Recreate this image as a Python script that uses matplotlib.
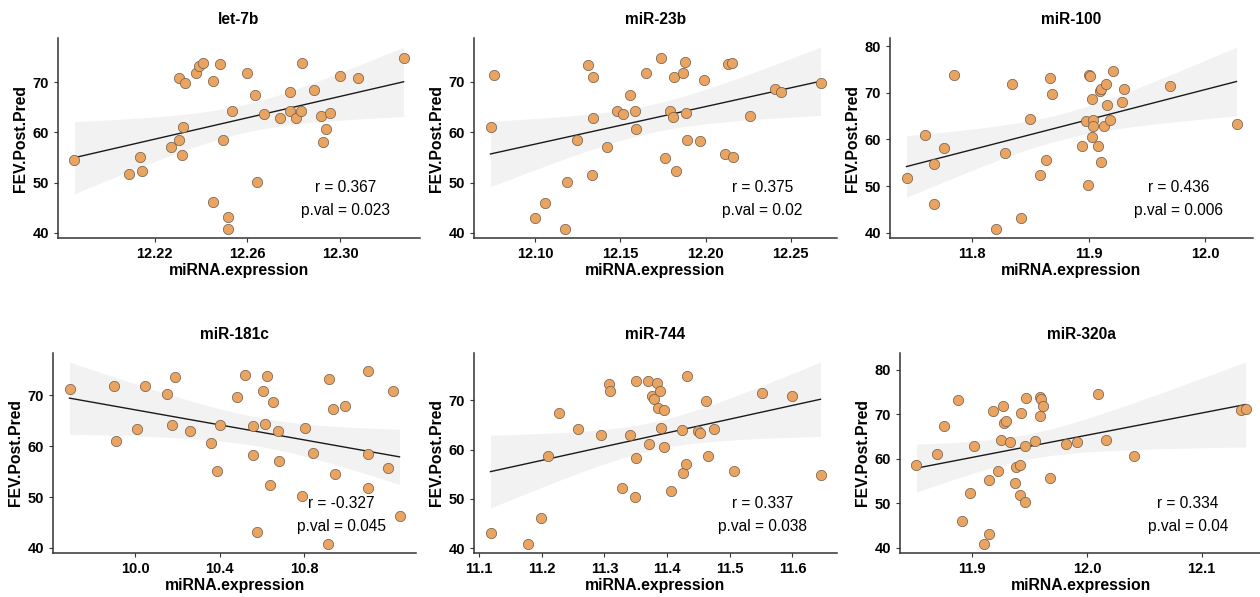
import numpy as np
import matplotlib.pyplot as plt

plt.rcParams['font.family'] = ['Liberation Sans', 'DejaVu Sans']

titles = ['let-7b', 'miR-23b', 'miR-100', 'miR-181c', 'miR-744', 'miR-320a']
r_text = ['r = 0.367', 'r = 0.375', 'r = 0.436', 'r = -0.327', 'r = 0.337', 'r = 0.334']
p_text = ['p.val = 0.023', 'p.val = 0.02', 'p.val = 0.006', 'p.val = 0.045', 'p.val = 0.038', 'p.val = 0.04']

let7b_x = [12.1854, 12.2088, 12.2137, 12.2145, 12.2272, 12.2303, 12.2318, 12.2322, 12.2329,
           12.2305, 12.2380, 12.2391, 12.2408, 12.2450, 12.2453, 12.2480, 12.2497, 12.2516,
           12.2517, 12.2533, 12.2599, 12.2631, 12.2640, 12.2674, 12.2739, 12.2785, 12.2785,
           12.2810, 12.2832, 12.2836, 12.2887, 12.2919, 12.2925, 12.2941, 12.2957, 12.3000,
           12.3076, 12.3274]
let7b_y = [54.6, 51.7, 55.2, 52.3, 57.1, 70.85, 55.6, 61.0, 69.8,
           58.5, 71.8, 73.2, 73.9, 70.3, 46.1, 73.6, 58.6, 43.1,
           40.8, 64.3, 71.8, 67.4, 50.2, 63.6, 62.9, 68.0, 64.2,
           62.9, 64.2, 73.8, 68.5, 63.2, 58.1, 60.6, 63.9, 71.3,
           70.9, 74.8]

mir23b_x = [12.0736, 12.0759, 12.1000, 12.1059, 12.1176, 12.1184, 12.1245, 12.1309, 12.1333,
            12.1337, 12.1337, 12.1423, 12.1482, 12.1513, 12.1558, 12.1587, 12.1593, 12.1648,
            12.1738, 12.1762, 12.1793, 12.1809, 12.1813, 12.1824, 12.1865, 12.1881, 12.1887,
            12.1891, 12.1969, 12.1991, 12.2116, 12.2131, 12.2155, 12.2162, 12.2263, 12.2410,
            12.2441, 12.2676]
mir23b_y = [61.0, 71.4, 43.0, 46.0, 40.8, 50.2, 58.5, 73.3, 51.6,
            71.0, 62.9, 57.1, 64.2, 63.6, 67.4, 64.2, 60.6, 71.8,
            74.8, 54.8, 64.2, 63.0, 70.9, 52.3, 71.8, 74.0, 63.9,
            58.5, 58.2, 70.3, 55.6, 73.5, 73.8, 55.1, 63.2, 68.6,
            68.0, 69.8]

mir100_x = [11.7435, 11.7590, 11.7667, 11.7670, 11.7753, 11.7842, 11.8207, 11.8278, 11.8344,
            11.8422, 11.8500, 11.8580, 11.8634, 11.8666, 11.8689, 11.8944, 11.8976, 11.8990,
            11.8999, 11.9010, 11.9027, 11.9030, 11.9033, 11.9036, 11.9079, 11.9099, 11.9110,
            11.9108, 11.9128, 11.9151, 11.9154, 11.9179, 11.9208, 11.9286, 11.9306, 11.9702,
            12.0270]
mir100_y = [51.7, 61.0, 46.1, 54.7, 58.2, 73.9, 40.8, 57.1, 71.9,
            43.1, 64.3, 52.3, 55.6, 73.2, 69.8, 58.6, 64.0, 50.2,
            73.9, 73.6, 60.6, 68.6, 64.2, 63.0, 58.6, 70.5, 70.9,
            55.2, 63.0, 71.9, 67.4, 64.2, 74.8, 68.1, 70.9, 71.4,
            63.4]

mir181c_x = [9.687, 9.8957, 9.9099, 10.0063, 10.0443, 10.1518, 10.1739, 10.1881, 10.2577,
             10.3589, 10.3858, 10.4016, 10.4838, 10.5186, 10.5581, 10.5565, 10.5771, 10.6071,
             10.6166, 10.6261, 10.6403, 10.6514, 10.6751, 10.6814, 10.7905, 10.8063, 10.8427,
             10.9154, 10.917, 10.9391, 10.9486, 10.9937, 11.1051, 11.1036, 11.1051, 11.2,
             11.2221, 11.2522]
mir181c_y = [71.3, 71.8, 61.1, 63.3, 71.8, 70.3, 64.2, 73.6, 63.0,
             60.6, 55.2, 64.1, 69.7, 73.9, 63.9, 58.2, 43.2, 70.9,
             64.3, 73.8, 52.4, 68.6, 63.0, 57.1, 50.2, 63.6, 58.6,
             40.8, 73.2, 67.4, 54.6, 68.0, 51.7, 74.7, 58.5, 55.7,
             70.8, 46.2]

mir744_x = [11.1181, 11.1777, 11.1979, 11.2101, 11.2282, 11.2574, 11.2941, 11.3074, 11.3090,
            11.3277, 11.3404, 11.3479, 11.3495, 11.3500, 11.3697, 11.3707, 11.3760, 11.3793,
            11.3830, 11.3851, 11.3888, 11.3894, 11.3947, 11.3947, 11.4059, 11.4229, 11.4245,
            11.4303, 11.4319, 11.4489, 11.4527, 11.4612, 11.4644, 11.4745, 11.5069, 11.5511,
            11.6000, 11.6447]
mir744_y = [43.2, 40.9, 46.2, 58.7, 67.4, 64.2, 63.0, 73.2, 71.9,
            52.3, 63.0, 50.3, 58.3, 73.9, 73.9, 61.1, 70.9, 70.3,
            73.5, 68.5, 71.9, 64.3, 68.0, 60.6, 51.7, 64.0, 55.2,
            57.1, 74.8, 63.8, 63.3, 69.9, 58.6, 64.2, 55.7, 71.5,
            70.9, 54.8]

mir320a_x = [11.8513, 11.8690, 11.8757, 11.8878, 11.8910, 11.8980, 11.9012, 11.9099, 11.9142,
             11.9148, 11.9177, 11.9223, 11.9252, 11.9264, 11.9278, 11.9296, 11.9328, 11.9374,
             11.9380, 11.9414, 11.9420, 11.9426, 11.9458, 11.9458, 11.9464, 11.9548, 11.9588,
             11.9594, 11.9603, 11.9617, 11.9675, 11.9820, 11.9916, 12.0093, 12.0168, 12.0409,
             12.1345, 12.1383]
mir320a_y = [58.6, 61.0, 67.5, 73.2, 46.1, 52.4, 62.9, 40.9, 43.1,
             55.2, 70.8, 57.2, 64.3, 71.8, 68.0, 68.6, 63.7, 54.7,
             58.2, 58.6, 51.8, 70.3, 50.4, 62.9, 73.8, 64.1, 69.7,
             73.9, 73.4, 71.8, 55.7, 63.3, 63.8, 74.7, 64.3, 60.6,
             70.9, 71.3]

xs = [let7b_x, mir23b_x, mir100_x, mir181c_x, mir744_x, mir320a_x]
ys = [let7b_y, mir23b_y, mir100_y, mir181c_y, mir744_y, mir320a_y]
xticks = [[12.22, 12.26, 12.30], [12.10, 12.15, 12.20, 12.25], [11.8, 11.9, 12.0],
          [10.0, 10.4, 10.8], [11.1, 11.2, 11.3, 11.4, 11.5, 11.6], [11.9, 12.0, 12.1]]
xfmt = ['%.2f', '%.2f', '%.1f', '%.1f', '%.1f', '%.1f']
yticks = [[40, 50, 60, 70], [40, 50, 60, 70], [40, 50, 60, 70, 80],
          [40, 50, 60, 70], [40, 50, 60, 70], [40, 50, 60, 70, 80]]

# axes boxes in pixels: left, right, top, bottom
boxes = [(58, 420, 38, 238), (474, 837, 38, 238), (890, 1253, 38, 238),
         (53, 416, 353, 553), (474, 837, 353, 553), (900, 1262, 353, 553)]

W, H = 1260, 597
fig = plt.figure(figsize=(12.6, 5.97), dpi=100)
tcrit = 2.03

for i in range(6):
    l, r, t, b = boxes[i]
    ax = fig.add_axes([l / W, 1 - b / H, (r - l) / W, (b - t) / H])
    x = np.array(xs[i])
    y = np.array(ys[i])
    n = len(x)
    slope, icpt = np.polyfit(x, y, 1)
    grid = np.linspace(x.min(), x.max(), 100)
    fit = slope * grid + icpt
    resid = y - (slope * x + icpt)
    s = np.sqrt(np.sum(resid ** 2) / (n - 2))
    se = s * np.sqrt(1 / n + (grid - x.mean()) ** 2 / np.sum((x - x.mean()) ** 2))
    lo, hi = fit - tcrit * se, fit + tcrit * se
    ax.fill_between(grid, lo, hi, color='#f2f2f2', lw=0, zorder=1)
    ax.plot(grid, fit, color='#1a1a1a', lw=1.0, zorder=2)
    ax.scatter(x, y, s=55, c='#e9a462', edgecolors='#6e5a48', linewidths=0.5, zorder=3)

    xr = x.max() - x.min()
    ax.set_xlim(x.min() - 0.05 * xr, x.max() + 0.05 * xr)
    ymin = min(y.min(), lo.min())
    ymax = max(y.max(), hi.max())
    yr = ymax - ymin
    ax.set_ylim(ymin - 0.05 * yr, ymax + 0.05 * yr)

    ax.set_xticks(xticks[i])
    ax.set_xticklabels([xfmt[i] % v for v in xticks[i]])
    ax.set_yticks(yticks[i])
    for sp in ['top', 'right']:
        ax.spines[sp].set_visible(False)
    for sp in ['left', 'bottom']:
        ax.spines[sp].set_color('#333333')
        ax.spines[sp].set_linewidth(1.1)
    ax.tick_params(length=3, width=0.8, color='#333333', labelsize=10.5, pad=3.5)
    for lab in ax.get_xticklabels() + ax.get_yticklabels():
        lab.set_fontweight('bold')
        lab.set_color('black')

    ax.set_title(titles[i], fontsize=11.2, fontweight='bold', pad=10)
    ax.set_xlabel('miRNA.expression', fontsize=11.3, fontweight='bold', labelpad=1.5)
    ax.set_ylabel('FEV.Post.Pred', fontsize=11.3, fontweight='bold', labelpad=3)
    ax.text(0.795, 0.25, r_text[i], transform=ax.transAxes, ha='center', va='center', fontsize=11.2)
    ax.text(0.795, 0.135, p_text[i], transform=ax.transAxes, ha='center', va='center', fontsize=11.2)

fig.savefig('out.png', dpi=100)
